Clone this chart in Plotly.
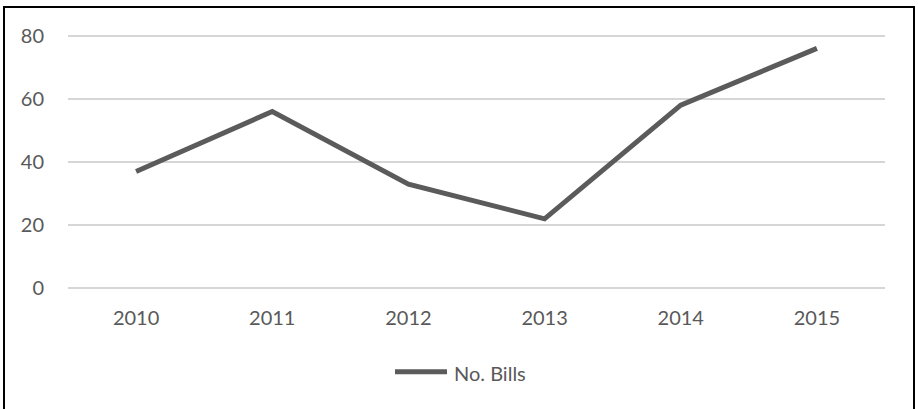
import plotly.graph_objects as go

# Number of bills per year
years = ["2010", "2011", "2012", "2013", "2014", "2015"]
bills = [37, 56, 33, 22, 58, 76]
y_ticks = [0, 20, 40, 60, 80]
series_name = "No. Bills"

W, H = 918, 409
L, R, T, B = 68, 33, 30.5, 115.5
pw, ph = W - L - R, H - T - B
Y_MIN, Y_MAX = -1.5, 81.5

def px_to_paper_x(px):
    return (px - L) / pw

def px_to_paper_y(py):
    return (H - B - py) / ph

line_color = "#5b5b5b"
text_color = "#595959"
font_family = "Lato, 'Open Sans', sans-serif"
font_size = 20

fig = go.Figure()
fig.add_trace(go.Scatter(
    x=years, y=bills, mode="lines", name=series_name,
    line=dict(color=line_color, width=5),
    showlegend=False,
))

shapes = [
    # outer frame
    dict(type="rect", xref="paper", yref="paper",
         x0=px_to_paper_x(4), x1=px_to_paper_x(914),
         y0=px_to_paper_y(420), y1=px_to_paper_y(6.5),
         line=dict(color="#000000", width=2), fillcolor="rgba(0,0,0,0)",
         layer="above"),
    # legend sample
    dict(type="line", xref="paper", yref="paper",
         x0=px_to_paper_x(395), x1=px_to_paper_x(447),
         y0=px_to_paper_y(372.5), y1=px_to_paper_y(372.5),
         line=dict(color=line_color, width=5)),
]

annotations = [
    dict(text=series_name, xref="paper", yref="paper",
         x=px_to_paper_x(452), y=px_to_paper_y(373.5),
         xanchor="left", yanchor="middle", showarrow=False,
         font=dict(family=font_family, size=font_size, color=text_color)),
]

fig.update_layout(
    width=W, height=H,
    margin=dict(l=L, r=R, t=T, b=B, pad=0),
    paper_bgcolor="white", plot_bgcolor="white",
    font=dict(family=font_family, size=font_size, color=text_color),
    shapes=shapes, annotations=annotations,
    xaxis=dict(
        type="category", range=[-0.5, len(years) - 0.5],
        showgrid=False, showline=False, zeroline=False,
        ticks="", ticklabelstandoff=11,
        tickfont=dict(size=font_size, color=text_color),
    ),
    yaxis=dict(
        range=[Y_MIN, Y_MAX], tickvals=y_ticks,
        showgrid=True, gridcolor="#d6d6d6", gridwidth=1.6,
        zeroline=False, showline=False, ticks="",
        ticklabelstandoff=23,
        tickfont=dict(size=font_size, color=text_color),
    ),
)

fig.write_html("out.html")
